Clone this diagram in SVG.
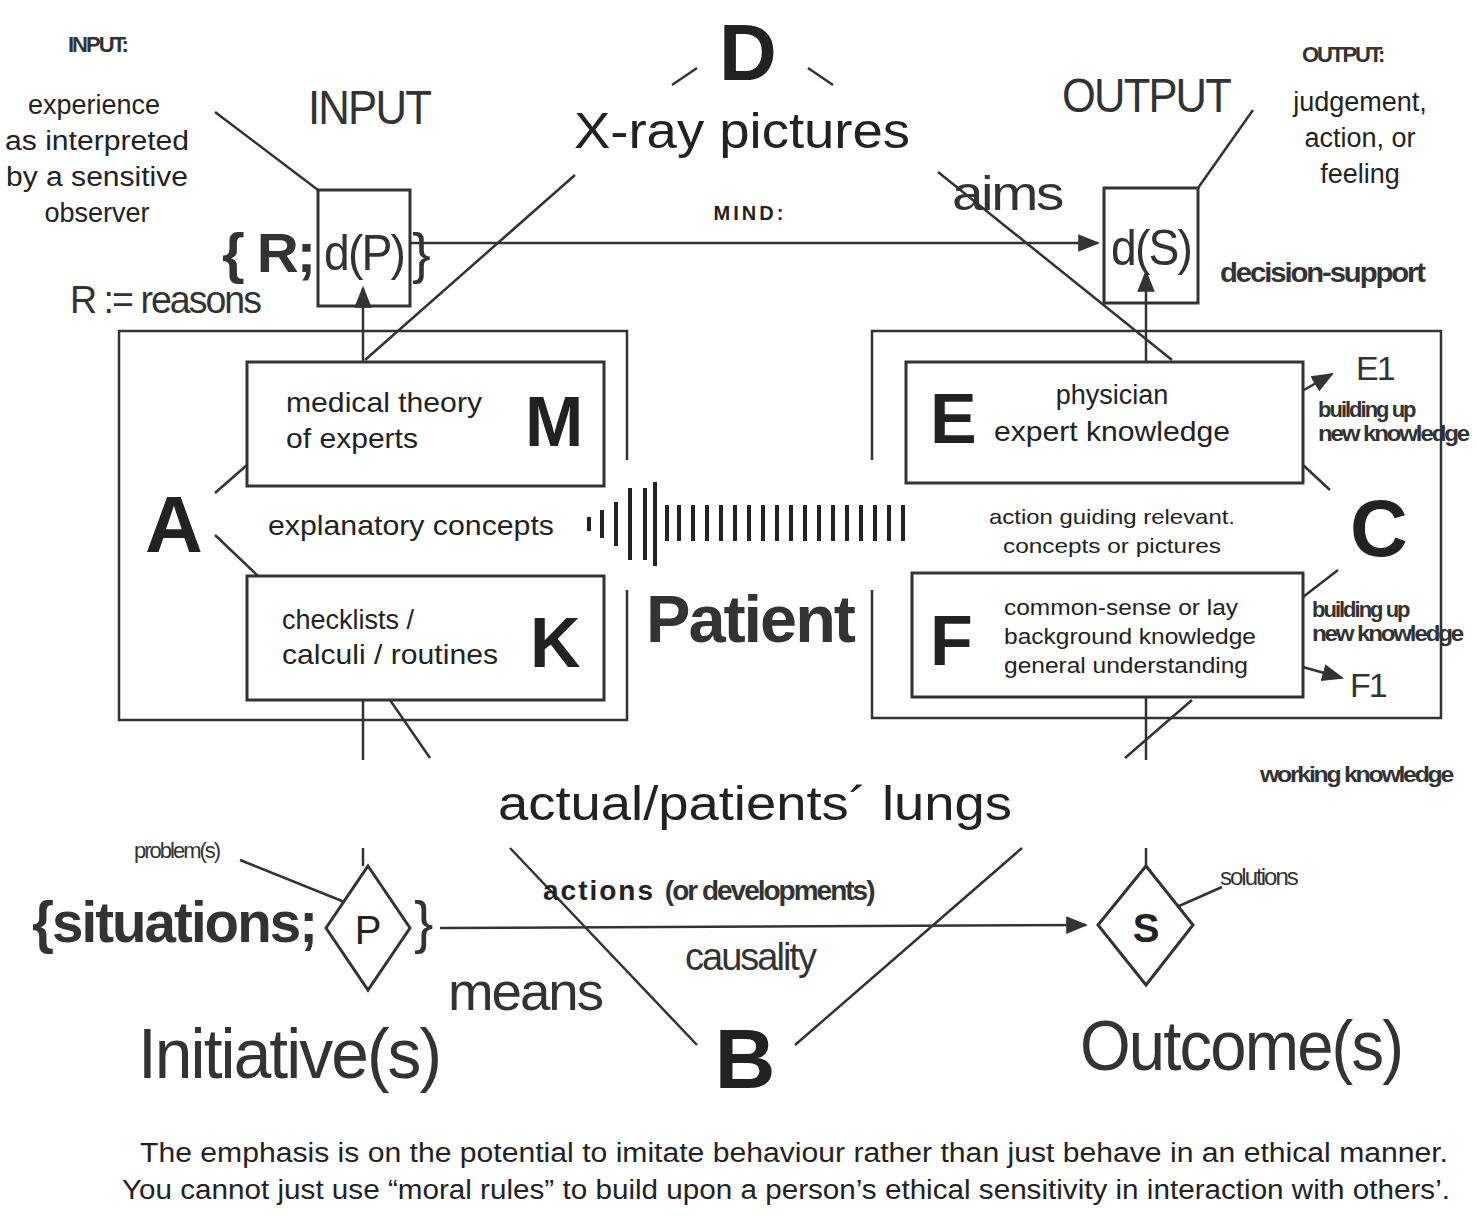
<svg xmlns="http://www.w3.org/2000/svg" width="1477" height="1216" viewBox="0 0 1477 1216">
<defs>
<style>
.s{font-family:"Liberation Sans",Arial,sans-serif;fill:#222}
.n{font-family:"Liberation Sans Narrow","Liberation Sans",Arial,sans-serif;fill:#333;letter-spacing:-2px}
.b{font-weight:bold}
.ln{stroke:#333;stroke-width:2.5;fill:none}
.bx{stroke:#333;stroke-width:3;fill:#fff}
.bo{stroke:#333;stroke-width:3;fill:none}
</style>
<marker id="ab" viewBox="0 0 10 10" refX="9" refY="5" markerWidth="22" markerHeight="22" markerUnits="userSpaceOnUse" orient="auto"><path d="M0,1L10,5L0,9z" fill="#333"/></marker>
</defs>
<rect width="1477" height="1216" fill="#fff"/>
<g id="connectors">
<path class="ln" d="M627,460V331H119V720H627V590"/>
<path class="ln" d="M872,460V331H1441V718H872V590"/>
<line class="ln" x1="410" y1="243" x2="1098" y2="243" marker-end="url(#ab)"/>
<line class="ln" x1="440" y1="928" x2="1086" y2="925" marker-end="url(#ab)"/>
<line class="ln" x1="363" y1="362" x2="363" y2="288" marker-end="url(#ab)"/>
<line class="ln" x1="1146" y1="362" x2="1146" y2="272" marker-end="url(#ab)"/>
<path class="ln" d="M363,700V760M363,848V866M1146,697V760M1146,848V866"/>
<path class="ln" d="M575,175L365,360M938,172L1172,360M672,85L697,68M808,68L833,85"/>
<path class="ln" d="M510,848L697,1045M1022,848L795,1045M390,700L430,758M1192,700L1125,758"/>
<path class="ln" d="M215,493L247,465M215,535L258,576M1303,465L1330,490M1303,597L1338,570"/>
<line class="ln" x1="1255" y1="418" x2="1332" y2="374" marker-end="url(#ab)"/>
<line class="ln" x1="1285" y1="662" x2="1342" y2="678" marker-end="url(#ab)"/>
<path class="ln" d="M215,112L318,190M1253,110L1198,188M240,860L352,905M1222,887L1170,910"/>
<g stroke="#222" stroke-width="4">
<path d="M589,517v14M602,510v28M616,502v44M630,488v72M645,488v72M655,482v84M667,505v36"/>
<path d="M679,505v36M693,505v36M707,505v36M721,505v36M735,505v36M749,505v36M763,505v36M777,505v36M791,505v36M805,505v36M819,505v36M833,505v36M847,505v36M861,505v36M875,505v36M889,505v36M903,505v36"/>
</g>
</g>
<g id="dP"><rect class="bo" x="318" y="190" width="92" height="116"/><text class="n" x="364" y="270" font-size="50" text-anchor="middle" textLength="80" lengthAdjust="spacingAndGlyphs">d(P)</text>
<text class="n b" x="222" y="272" font-size="56" textLength="92" lengthAdjust="spacingAndGlyphs">{ R;</text><text class="n" x="412" y="272" font-size="56">}</text></g>
<g id="dS"><rect class="bo" x="1104" y="188" width="94" height="115"/><text class="n" x="1151" y="265" font-size="50" text-anchor="middle" textLength="80" lengthAdjust="spacingAndGlyphs">d(S)</text></g>
<g id="M"><rect class="bx" x="247" y="362" width="357" height="124"/><text class="s" x="286" y="412" font-size="28" textLength="196" lengthAdjust="spacingAndGlyphs">medical theory</text><text class="s" x="286" y="448" font-size="28" textLength="132" lengthAdjust="spacingAndGlyphs">of experts</text><text class="s b" x="525" y="446" font-size="70">M</text></g>
<g id="K"><rect class="bx" x="247" y="576" width="357" height="124"/><text class="s" x="282" y="629" font-size="27">checklists /</text><text class="s" x="282" y="664" font-size="28" textLength="216" lengthAdjust="spacingAndGlyphs">calculi / routines</text><text class="s b" x="530" y="667" font-size="70">K</text></g>
<g id="E"><rect class="bx" x="906" y="362" width="397" height="121"/><text class="s b" x="930" y="443" font-size="70">E</text><text class="s" x="1112" y="404" font-size="27" text-anchor="middle">physician</text><text class="s" x="1112" y="441" font-size="28" text-anchor="middle" textLength="236" lengthAdjust="spacingAndGlyphs">expert knowledge</text></g>
<g id="F"><rect class="bx" x="912" y="573" width="391" height="124"/><text class="s b" x="930" y="665" font-size="70">F</text><text class="s" x="1004" y="615" font-size="22" textLength="234" lengthAdjust="spacingAndGlyphs">common-sense or lay</text><text class="s" x="1004" y="644" font-size="22" textLength="252" lengthAdjust="spacingAndGlyphs">background knowledge</text><text class="s" x="1004" y="673" font-size="22" textLength="244" lengthAdjust="spacingAndGlyphs">general understanding</text></g>
<g id="P"><path class="bx" d="M368,866L410,928L368,990L326,928Z"/><text class="s" x="368" y="944" font-size="40" text-anchor="middle">P</text>
<text class="n b" x="32" y="942" font-size="58" textLength="284" lengthAdjust="spacingAndGlyphs">{situations;</text><text class="n" x="414" y="942" font-size="58">}</text></g>
<g id="S"><path class="bx" d="M1146,866L1193,925L1146,985L1098,925Z"/><text class="s b" x="1146" y="942" font-size="40" text-anchor="middle">S</text></g>
<g id="labels">
<text class="n b" x="68" y="52" font-size="22">INPUT:</text>
<text class="s" x="94" y="114" font-size="27" text-anchor="middle">experience</text>
<text class="s" x="97" y="150" font-size="27" text-anchor="middle" textLength="184" lengthAdjust="spacingAndGlyphs">as interpreted</text>
<text class="s" x="97" y="186" font-size="27" text-anchor="middle" textLength="182" lengthAdjust="spacingAndGlyphs">by a sensitive</text>
<text class="s" x="97" y="222" font-size="27" text-anchor="middle">observer</text>
<text class="n" x="308" y="124" font-size="48" textLength="122" lengthAdjust="spacingAndGlyphs">INPUT</text>
<text class="n" x="70" y="313" font-size="38" textLength="190" lengthAdjust="spacingAndGlyphs">R := reasons</text>
<text class="s b" x="748" y="80" font-size="80" text-anchor="middle">D</text>
<text class="s" x="742" y="148" font-size="50" text-anchor="middle" textLength="336" lengthAdjust="spacingAndGlyphs">X-ray pictures</text>
<text class="s b" x="750" y="220" font-size="20" text-anchor="middle" letter-spacing="3">MIND:</text>
<text class="n" x="1062" y="112" font-size="48" textLength="168" lengthAdjust="spacingAndGlyphs">OUTPUT</text>
<text class="n b" x="1302" y="62" font-size="22">OUTPUT:</text>
<text class="s" x="1360" y="111" font-size="27" text-anchor="middle">judgement,</text>
<text class="s" x="1360" y="147" font-size="27" text-anchor="middle">action, or</text>
<text class="s" x="1360" y="183" font-size="27" text-anchor="middle">feeling</text>
<text class="n" x="952" y="210" font-size="48" textLength="110" lengthAdjust="spacingAndGlyphs">aims</text>
<text class="n b" x="1220" y="282" font-size="28" textLength="204" lengthAdjust="spacingAndGlyphs">decision-support</text>
<text class="s b" x="145" y="552" font-size="80">A</text>
<text class="s" x="268" y="535" font-size="28" textLength="286" lengthAdjust="spacingAndGlyphs">explanatory concepts</text>
<text class="n b" x="646" y="642" font-size="66" textLength="208" lengthAdjust="spacingAndGlyphs">Patient</text>
<text class="s" x="1112" y="524" font-size="21" text-anchor="middle" textLength="246" lengthAdjust="spacingAndGlyphs">action guiding relevant.</text>
<text class="s" x="1112" y="553" font-size="21" text-anchor="middle" textLength="218" lengthAdjust="spacingAndGlyphs">concepts or pictures</text>
<text class="s b" x="1350" y="556" font-size="80">C</text>
<text class="n" x="1356" y="380" font-size="34">E1</text>
<text class="n b" x="1318" y="417" font-size="22">building up</text>
<text class="n b" x="1318" y="441" font-size="22" textLength="150" lengthAdjust="spacingAndGlyphs">new knowledge</text>
<text class="n b" x="1312" y="617" font-size="22">building up</text>
<text class="n b" x="1312" y="641" font-size="22" textLength="150" lengthAdjust="spacingAndGlyphs">new knowledge</text>
<text class="n" x="1350" y="697" font-size="34">F1</text>
<text class="n b" x="1260" y="782" font-size="22" textLength="192" lengthAdjust="spacingAndGlyphs">working  knowledge</text>
<text class="s" x="755" y="820" font-size="48" text-anchor="middle" textLength="514" lengthAdjust="spacingAndGlyphs">actual/patients´ lungs</text>
<text class="n" x="134" y="858" font-size="22">problem(s)</text>
<text class="n" x="1220" y="885" font-size="24">solutions</text>
<text class="s b" x="543" y="900" font-size="28" letter-spacing="2">actions <tspan class="n" font-size="28">(or developments)</tspan></text>
<text class="n" x="750" y="970" font-size="38" text-anchor="middle">causality</text>
<text class="n" x="448" y="1010" font-size="54" textLength="154" lengthAdjust="spacingAndGlyphs">means</text>
<text class="s b" x="745" y="1088" font-size="84" text-anchor="middle">B</text>
<text class="n" x="138" y="1078" font-size="70" textLength="302" lengthAdjust="spacingAndGlyphs">Initiative(s)</text>
<text class="n" x="1080" y="1070" font-size="70" textLength="322" lengthAdjust="spacingAndGlyphs">Outcome(s)</text>
<text class="s" x="140" y="1162" font-size="27" textLength="1308" lengthAdjust="spacingAndGlyphs">The emphasis is on the potential to imitate behaviour rather than just behave in an ethical manner.</text>
<text class="s" x="122" y="1199" font-size="27" textLength="1328" lengthAdjust="spacingAndGlyphs">You cannot just use “moral rules” to build upon a person’s ethical sensitivity in interaction with others’.</text>
</g>
</svg>
